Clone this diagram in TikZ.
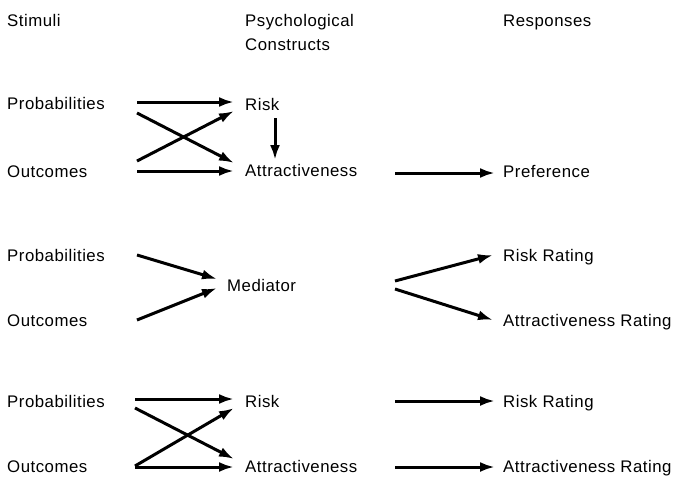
\documentclass[tikz,border=0pt]{standalone}
\usepackage{fontspec}
\setmainfont[LetterSpace=3]{Liberation Sans}
\usetikzlibrary{arrows.meta}
\begin{document}
\begin{tikzpicture}[x=1pt,y=-1pt,
  lbl/.style={anchor=base west,inner sep=0pt,font=\fontsize{16.8}{19}\selectfont},
  arr/.style={line width=3pt,-{Latex[length=15pt,width=10pt]}}]
\useasboundingbox (0,0) rectangle (682,477);
% headers
\node[lbl] (hs) at (7,26) {Stimuli};
\node[lbl] (hp) at (245,26) {Psychological};
\node[lbl] (hc) at (245,50) {Constructs};
\node[lbl] (hr) at (503,26) {Responses};
% row 1
\node[lbl] (p1) at (7,109) {Probabilities};
\node[lbl] (o1) at (7,177) {Outcomes};
\node[lbl] (r1) at (245,110) {Risk};
\node[lbl] (a1) at (245,176) {Attractiveness};
\node[lbl] (pref) at (503,177) {Preference};
\draw[arr] ([xshift=130pt,yshift=7pt]p1.base west) -- ([xshift=-11pt,yshift=8pt]r1.base west);
\draw[arr] ([xshift=130pt,yshift=-4pt]p1.base west) -- ([xshift=-11pt,yshift=13pt]a1.base west);
\draw[arr] ([xshift=130pt,yshift=16pt]o1.base west) -- ([xshift=-11pt,yshift=-1pt]r1.base west);
\draw[arr] ([xshift=130pt,yshift=6pt]o1.base west) -- ([xshift=-11pt,yshift=5pt]a1.base west);
\draw[arr] ([xshift=30pt,yshift=-8pt]r1.base west) -- ([xshift=30pt,yshift=16pt]a1.base west);
\draw[arr] ([xshift=150pt,yshift=3pt]a1.base west) -- ([xshift=-8pt,yshift=4pt]pref.base west);
% row 2
\node[lbl] (p2) at (7,261) {Probabilities};
\node[lbl] (o2) at (7,326) {Outcomes};
\node[lbl] (med) at (227,291) {Mediator};
\node[lbl] (rr2) at (503,261) {Risk Rating};
\node[lbl] (ar2) at (503,326) {Attractiveness Rating};
\draw[arr] ([xshift=130pt,yshift=6pt]p2.base west) -- ([xshift=-10pt,yshift=12pt]med.base west);
\draw[arr] ([xshift=130pt,yshift=6pt]o2.base west) -- ([xshift=-10pt,yshift=3pt]med.base west);
\draw[arr] ([xshift=168pt,yshift=10pt]med.base west) -- ([xshift=-10pt,yshift=6pt]rr2.base west);
\draw[arr] ([xshift=168pt,yshift=2pt]med.base west) -- ([xshift=-10pt,yshift=6pt]ar2.base west);
% row 3
\node[lbl] (p3) at (7,407) {Probabilities};
\node[lbl] (o3) at (7,472) {Outcomes};
\node[lbl] (r3) at (245,407) {Risk};
\node[lbl] (a3) at (245,472) {Attractiveness};
\node[lbl] (rr3) at (503,407) {Risk Rating};
\node[lbl] (ar3) at (503,472) {Attractiveness Rating};
\draw[arr] ([xshift=128pt,yshift=8pt]p3.base west) -- ([xshift=-11pt,yshift=8pt]r3.base west);
\draw[arr] ([xshift=128pt,yshift=-1pt]p3.base west) -- ([xshift=-11pt,yshift=13pt]a3.base west);
\draw[arr] ([xshift=128pt,yshift=6pt]o3.base west) -- ([xshift=-11pt,yshift=-1pt]r3.base west);
\draw[arr] ([xshift=128pt,yshift=5pt]o3.base west) -- ([xshift=-11pt,yshift=5pt]a3.base west);
\draw[arr] ([xshift=150pt,yshift=6pt]r3.base west) -- ([xshift=-8pt,yshift=6pt]rr3.base west);
\draw[arr] ([xshift=150pt,yshift=5pt]a3.base west) -- ([xshift=-8pt,yshift=5pt]ar3.base west);
\end{tikzpicture}
\end{document}
